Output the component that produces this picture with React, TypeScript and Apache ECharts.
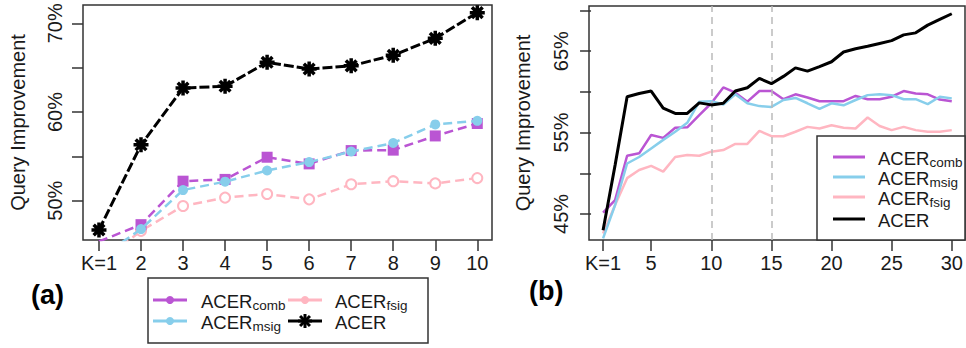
import React, { useEffect, useRef } from 'react';
import * as echarts from 'echarts';

// ---------- data: panel (a) ----------
const kLeft = [1, 2, 3, 4, 5, 6, 7, 8, 9, 10];
const leftComb = [45.4, 47.3, 52.2, 52.4, 54.9, 54.15, 55.65, 55.7, 57.3, 58.7];
const leftMsig = [43.5, 46.8, 51.2, 52.15, 53.4, 54.35, 55.55, 56.5, 58.6, 59.0];
const leftFsig = [43.0, 46.6, 49.4, 50.35, 50.75, 50.15, 51.85, 52.2, 51.95, 52.55];
const leftAcer = [46.7, 56.3, 62.7, 62.9, 65.6, 64.85, 65.2, 66.4, 68.3, 71.2];

// ---------- data: panel (b) ----------
const kRight = [1, 2, 3, 4, 5, 6, 7, 8, 9, 10, 11, 12, 13, 14, 15, 16, 17, 18, 19, 20, 21, 22, 23, 24, 25, 26, 27, 28, 29, 30];
const rightComb = [45.15, 46.7, 52.15, 52.45, 54.7, 54.35, 55.6, 55.65, 57.15, 58.6, 60.55, 59.9, 58.8, 60.1, 60.1, 59.1, 59.7, 59.3, 58.85, 58.85, 58.85, 59.5, 59.1, 59.1, 59.4, 60.1, 59.8, 59.7, 59.05, 58.85];
const rightMsig = [42.0, 46.1, 51.2, 52.0, 53.05, 54.1, 55.1, 56.2, 58.8, 58.85, 58.45, 59.7, 58.6, 58.25, 58.15, 59.0, 59.25, 58.6, 57.9, 58.6, 58.35, 59.0, 59.6, 59.7, 59.6, 59.1, 59.1, 58.5, 59.4, 59.2];
const rightFsig = [42.6, 46.1, 49.4, 50.4, 50.9, 50.2, 52.0, 52.25, 52.15, 52.65, 52.85, 53.6, 53.6, 55.2, 54.55, 54.55, 55.1, 55.7, 55.5, 55.9, 55.6, 55.5, 56.85, 55.8, 55.3, 55.7, 55.3, 55.1, 55.1, 55.3];
const rightAcer = [43.0, 51.0, 59.4, 59.8, 60.1, 58.0, 57.35, 57.35, 58.65, 58.4, 58.6, 60.1, 60.5, 61.65, 61.0, 61.9, 62.95, 62.55, 63.1, 63.7, 64.9, 65.3, 65.6, 65.95, 66.3, 67.0, 67.25, 68.2, 68.9, 69.6];

// ---------- ticks / labels ----------
const leftXTicks = [1, 2, 3, 4, 5, 6, 7, 8, 9, 10];
const leftYTicks = [50, 55, 60, 65, 70];
const leftYLabels = [50, 60, 70];
const rightXTicks = [1, 5, 10, 15, 20, 25, 30];
const rightYTicks = [45, 50, 55, 60, 65, 70];
const rightYLabels = [45, 55, 65];
const refLinesK = [10, 15];
const seriesNames = ['ACERcomb', 'ACERmsig', 'ACERfsig', 'ACER'];

const FONT = '"Liberation Sans", Arial, Helvetica, sans-serif';
const C_COMB = '#BA55D3';
const C_MSIG = '#87CEEB';
const C_FSIG = '#FFB6C1';
const C_ACER = '#000000';
const AX = '#333333';
const TXT = '#1a1a1a';

const ASTERISK = 'path://M8 0 L8 16 M0 8 L16 8 M2.34 2.34 L13.66 13.66 M2.34 13.66 L13.66 2.34';

const zip = (xs: number[], ys: number[]) => xs.map((x, i) => [x, ys[i]]);

const richLabel = (main: string, sub: string, x: number, y: number) => ({
  type: 'text',
  x,
  y,
  style: {
    text: sub ? `{m|${main}}{s|${sub}}` : `{m|${main}}`,
    verticalAlign: 'middle',
    align: 'left',
    fill: TXT,
    fontFamily: FONT,
    rich: {
      m: { fontSize: 18.5, lineHeight: 22, fontFamily: FONT, fill: TXT },
      s: { fontSize: 13.5, lineHeight: 11, verticalAlign: 'bottom', fontFamily: FONT, fill: TXT },
    },
  },
  z: 100,
});

const legendLine = (x1: number, x2: number, y: number, color: string, w = 3) => ({
  type: 'line',
  shape: { x1, y1: y, x2, y2: y },
  style: { stroke: color, lineWidth: w },
  z: 100,
});

const legendDot = (cx: number, cy: number, color: string) => ({
  type: 'circle',
  shape: { cx, cy, r: 4 },
  style: { fill: color },
  z: 100,
});

const legendStar = (cx: number, cy: number) => {
  const r = 7;
  const d = r * 0.707;
  return {
    type: 'group',
    z: 100,
    children: [
      { type: 'line', shape: { x1: cx, y1: cy - r, x2: cx, y2: cy + r }, style: { stroke: '#000', lineWidth: 3 }, z: 100 },
      { type: 'line', shape: { x1: cx - r, y1: cy, x2: cx + r, y2: cy }, style: { stroke: '#000', lineWidth: 3 }, z: 100 },
      { type: 'line', shape: { x1: cx - d, y1: cy - d, x2: cx + d, y2: cy + d }, style: { stroke: '#000', lineWidth: 3 }, z: 100 },
      { type: 'line', shape: { x1: cx - d, y1: cy + d, x2: cx + d, y2: cy - d }, style: { stroke: '#000', lineWidth: 3 }, z: 100 },
    ],
  };
};

export default function App() {
  const ref = useRef<HTMLDivElement>(null);

  useEffect(() => {
    if (!ref.current) return;
    const chart = echarts.init(ref.current, null, { renderer: 'svg' });

    const tickStyle = { color: AX, width: 1.5 };
    const labelBase = { fontSize: 20, fontFamily: FONT, color: TXT };

    const option: any = {
      animation: false,
      backgroundColor: '#ffffff',
      grid: [
        { left: 83, top: 5, width: 409, height: 235, show: true, borderColor: AX, borderWidth: 1.5, backgroundColor: 'transparent', outerBoundsMode: 'none', containLabel: false },
        { left: 589, top: 6, width: 376, height: 234, show: true, borderColor: AX, borderWidth: 1.5, backgroundColor: 'transparent', outerBoundsMode: 'none', containLabel: false },
      ],
      xAxis: [
        {
          type: 'value', gridIndex: 0, min: 0.62, max: 10.35,
          axisLine: { show: false }, splitLine: { show: false },
          axisTick: { show: true, customValues: leftXTicks, length: 11, lineStyle: tickStyle },
          axisLabel: { ...labelBase, customValues: leftXTicks, margin: 13, formatter: (v: number) => (v === 1 ? 'K=1' : String(v)) },
        },
        {
          type: 'value', gridIndex: 1, min: -0.17, max: 31.1,
          axisLine: { show: false }, splitLine: { show: false },
          axisTick: { show: true, customValues: rightXTicks, length: 11, lineStyle: tickStyle },
          axisLabel: { ...labelBase, customValues: rightXTicks, margin: 13, formatter: (v: number) => (v === 1 ? 'K=1' : String(v)) },
        },
      ],
      yAxis: [
        {
          type: 'value', gridIndex: 0, min: 45.57, max: 72.06,
          axisLine: { show: false }, splitLine: { show: false },
          axisTick: { show: true, customValues: leftYTicks, length: 11, lineStyle: tickStyle },
          axisLabel: { ...labelBase, customValues: leftYLabels, rotate: 90, margin: 18, formatter: (v: number) => `${v}%` },
          name: 'Query Improvement', nameLocation: 'middle', nameGap: 55, nameRotate: 90, nameMoveOverlap: false,
          nameTextStyle: { fontSize: 20, fontFamily: FONT, color: TXT },
        },
        {
          type: 'value', gridIndex: 1, min: 41.8, max: 70.55,
          axisLine: { show: false }, splitLine: { show: false },
          axisTick: { show: true, customValues: rightYTicks, length: 11, lineStyle: tickStyle },
          axisLabel: { ...labelBase, customValues: rightYLabels, rotate: 90, margin: 18, formatter: (v: number) => `${v}%` },
          name: 'Query Improvement', nameLocation: 'middle', nameGap: 56, nameRotate: 90, nameMoveOverlap: false,
          nameTextStyle: { fontSize: 20, fontFamily: FONT, color: TXT },
        },
      ],
      series: [
        // panel (a)
        {
          name: seriesNames[0], type: 'line', xAxisIndex: 0, yAxisIndex: 0, data: zip(kLeft, leftComb),
          lineStyle: { color: C_COMB, width: 2.5, type: [9, 5] },
          symbol: 'rect', symbolSize: 11, itemStyle: { color: C_COMB }, z: 3,
        },
        {
          name: seriesNames[1], type: 'line', xAxisIndex: 0, yAxisIndex: 0, data: zip(kLeft, leftMsig),
          lineStyle: { color: C_MSIG, width: 2.5, type: [9, 5] },
          symbol: 'circle', symbolSize: 10, itemStyle: { color: C_MSIG }, z: 4,
        },
        {
          name: seriesNames[2], type: 'line', xAxisIndex: 0, yAxisIndex: 0, data: zip(kLeft, leftFsig),
          lineStyle: { color: C_FSIG, width: 2.5, type: [9, 5] },
          symbol: 'emptyCircle', symbolSize: 10, itemStyle: { color: C_FSIG, borderColor: C_FSIG, borderWidth: 2.5 }, z: 2,
        },
        {
          name: seriesNames[3], type: 'line', xAxisIndex: 0, yAxisIndex: 0, data: zip(kLeft, leftAcer),
          lineStyle: { color: C_ACER, width: 3, type: [10, 3] },
          symbol: ASTERISK, symbolSize: 15, itemStyle: { color: C_ACER, borderColor: C_ACER, borderWidth: 3.5 }, z: 5,
        },
        // panel (b)
        {
          name: seriesNames[2], type: 'line', xAxisIndex: 1, yAxisIndex: 1, data: zip(kRight, rightFsig),
          lineStyle: { color: C_FSIG, width: 2.5 }, symbol: 'none', z: 2,
          markLine: {
            silent: true, symbol: ['none', 'none'], label: { show: false },
            lineStyle: { color: '#bbbbbb', width: 1.5, type: [7, 5] },
            data: refLinesK.map((k) => ({ xAxis: k })),
          },
        },
        {
          name: seriesNames[0], type: 'line', xAxisIndex: 1, yAxisIndex: 1, data: zip(kRight, rightComb),
          lineStyle: { color: C_COMB, width: 2.5 }, symbol: 'none', z: 3,
        },
        {
          name: seriesNames[1], type: 'line', xAxisIndex: 1, yAxisIndex: 1, data: zip(kRight, rightMsig),
          lineStyle: { color: C_MSIG, width: 2.5 }, symbol: 'none', z: 4,
        },
        {
          name: seriesNames[3], type: 'line', xAxisIndex: 1, yAxisIndex: 1, data: zip(kRight, rightAcer),
          lineStyle: { color: C_ACER, width: 3 }, symbol: 'none', z: 5,
        },
      ],
      graphic: [
        // panel labels
        { type: 'text', x: 31, y: 295, style: { text: '(a)', fontSize: 27, fontWeight: 'bold', fontFamily: FONT, fill: '#000', verticalAlign: 'middle' } },
        { type: 'text', x: 529, y: 291, style: { text: '(b)', fontSize: 27, fontWeight: 'bold', fontFamily: FONT, fill: '#000', verticalAlign: 'middle' } },
        // legend (a)
        { type: 'rect', shape: { x: 148, y: 278, width: 280, height: 65 }, style: { fill: '#ffffff', stroke: AX, lineWidth: 1.5 }, z: 99 },
        legendLine(153, 187, 300, C_COMB), legendDot(170, 300, C_COMB), richLabel('ACER', 'comb', 201, 301.5),
        legendLine(153, 187, 321, C_MSIG), legendDot(170, 321, C_MSIG), richLabel('ACER', 'msig', 201, 322.5),
        legendLine(288, 322, 300, C_FSIG), legendDot(305, 300, C_FSIG), richLabel('ACER', 'fsig', 335, 301.5),
        legendLine(288, 322, 321, '#000'), legendStar(305, 321), richLabel('ACER', '', 335, 322.5),
        // legend (b)
        { type: 'rect', shape: { x: 817, y: 136, width: 148, height: 104 }, style: { fill: '#ffffff', stroke: AX, lineWidth: 1.5 }, z: 99 },
        legendLine(833, 865, 157, C_COMB), richLabel('ACER', 'comb', 878, 158),
        legendLine(833, 865, 177, C_MSIG), richLabel('ACER', 'msig', 878, 178),
        legendLine(833, 865, 197, C_FSIG), richLabel('ACER', 'fsig', 878, 198),
        legendLine(833, 865, 219, '#000'), richLabel('ACER', '', 878, 220),
      ],
    };

    chart.setOption(option);
    return () => chart.dispose();
  }, []);

  return <div ref={ref} style={{ position: 'absolute', left: 0, top: 0, width: 966, height: 348 }} />;
}
